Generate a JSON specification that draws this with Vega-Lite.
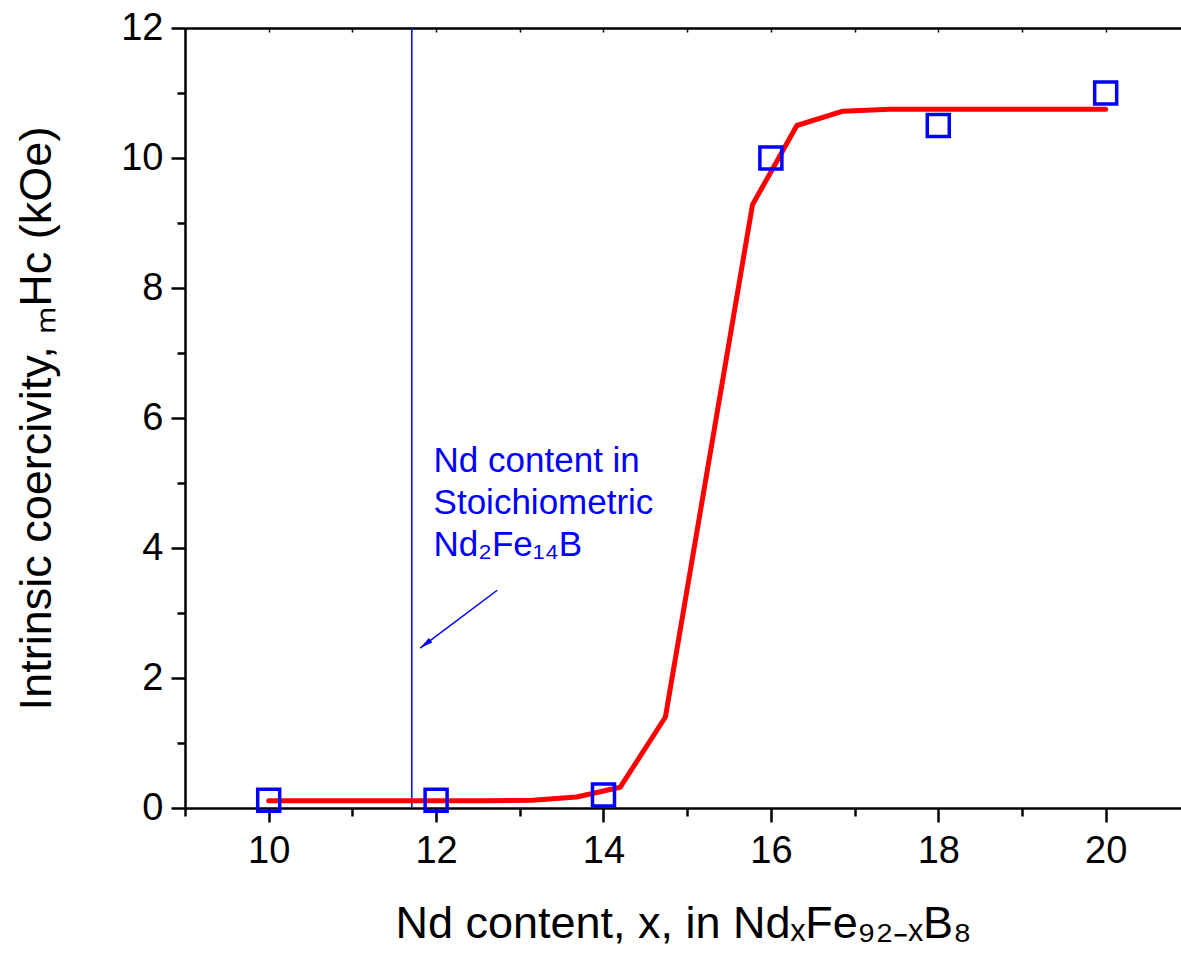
{
  "$schema": "https://vega.github.io/schema/vega-lite/v6.json",
  "width": 996,
  "height": 780,
  "autosize": {"type": "none"},
  "padding": {"left": 185, "top": 28, "right": 0, "bottom": 152},
  "background": "white",
  "config": {
    "view": {"stroke": null},
    "font": "Liberation Sans",
    "axis": {
      "grid": false,
      "domainColor": "black",
      "domainWidth": 2.5,
      "tickColor": "black",
      "tickWidth": 2.5,
      "labelFont": "Liberation Sans",
      "labelColor": "black",
      "labelFontSize": 38,
      "titleFont": "Liberation Sans",
      "titleColor": "black",
      "titleFontSize": 45,
      "titleFontWeight": "normal",
      "labelFlush": false,
      "labelOverlap": false
    }
  },
  "datasets": {
    "pts": [
      {"x": 10, "y": 0.12},
      {"x": 12, "y": 0.12},
      {"x": 14, "y": 0.2},
      {"x": 16, "y": 10.0},
      {"x": 18, "y": 10.5},
      {"x": 20, "y": 11.0}
    ],
    "fit": [
      {"x": 10, "y": 0.11},
      {"x": 10.5, "y": 0.11},
      {"x": 11, "y": 0.11},
      {"x": 11.5, "y": 0.11},
      {"x": 12, "y": 0.11},
      {"x": 12.6, "y": 0.11},
      {"x": 13.15, "y": 0.12},
      {"x": 13.68, "y": 0.17},
      {"x": 14.2, "y": 0.32},
      {"x": 14.74, "y": 1.4},
      {"x": 15.78, "y": 9.28},
      {"x": 16.31, "y": 10.5},
      {"x": 16.86, "y": 10.72},
      {"x": 17.42, "y": 10.75},
      {"x": 18, "y": 10.75},
      {"x": 20, "y": 10.75}
    ],
    "stoich": [{"x": 11.71}],
    "arrow": [{"x": 12.73, "y": 3.35, "x2": 11.81, "y2": 2.46}],
    "note": [{"x": 11.97, "y": 5.17, "label": "Nd content in\nStoichiometric\nNd₂Fe₁₄B"}]
  },
  "layer": [
    {
      "data": {"name": "stoich"},
      "mark": {"type": "rule", "color": "#0000ff", "strokeWidth": 1.5},
      "encoding": {
        "x": {"field": "x", "type": "quantitative",
              "scale": {"domain": [9, 20.9], "nice": false, "zero": false},
              "axis": {"orient": "top", "values": [9,10,11,12,13,14,15,16,17,18,19,20], "tickSize": -4, "tickWidth": 1.5, "labels": false, "title": null, "domain": true}},
        "y": {"datum": 0, "type": "quantitative", "scale": {"domain": [0, 12], "nice": false}, "axis": null},
        "y2": {"datum": 12}
      }
    },
    {
      "data": {"name": "fit"},
      "mark": {"type": "line", "color": "#ff0000", "strokeWidth": 5, "strokeJoin": "round", "strokeCap": "round"},
      "encoding": {
        "x": {"field": "x", "type": "quantitative",
              "scale": {"domain": [9, 20.9], "nice": false, "zero": false},
              "axis": {"orient": "bottom", "values": [9,11,13,15,17,19], "tickSize": 8, "labels": false, "title": null, "domain": false}},
        "y": {"field": "y", "type": "quantitative",
              "scale": {"domain": [0, 12], "nice": false},
              "axis": {"orient": "left", "values": [1,3,5,7,9,11], "tickSize": 8, "labels": false, "title": null, "domain": false}}
      }
    },
    {
      "data": {"name": "pts"},
      "mark": {"type": "point", "shape": "square", "filled": false, "stroke": "#0000ff", "strokeWidth": 3.5, "size": 484, "opacity": 1},
      "encoding": {
        "x": {"field": "x", "type": "quantitative",
              "scale": {"domain": [9, 20.9], "nice": false, "zero": false},
              "axis": {"orient": "bottom", "values": [10,12,14,16,18,20], "tickSize": 14, "labelPadding": 10, "format": "d",
                       "title": "Nd content, x, in NdₓFe₉₂₋ₓB₈", "titlePadding": 31}},
        "y": {"field": "y", "type": "quantitative",
              "scale": {"domain": [0, 12], "nice": false},
              "axis": {"orient": "left", "values": [0,2,4,6,8,10,12], "tickSize": 14, "labelPadding": 8, "format": "d",
                       "title": "Intrinsic coercivity, ₘHc (kOe)", "titlePadding": 61}}
      }
    },
    {
      "data": {"name": "arrow"},
      "mark": {"type": "rule", "color": "#0000ff", "strokeWidth": 1.5},
      "encoding": {
        "x": {"field": "x", "type": "quantitative", "axis": null},
        "y": {"field": "y", "type": "quantitative", "axis": null},
        "x2": {"field": "x2"},
        "y2": {"field": "y2"}
      }
    },
    {
      "data": {"name": "arrow"},
      "mark": {"type": "point", "shape": "M0,0L-0.22,1L0.22,1Z", "filled": true, "color": "#0000ff", "size": 676, "angle": 233, "opacity": 1},
      "encoding": {
        "x": {"field": "x2", "type": "quantitative", "axis": null},
        "y": {"field": "y2", "type": "quantitative", "axis": null}
      }
    },
    {
      "data": {"name": "note"},
      "mark": {"type": "text", "color": "#0000ff", "fontSize": 35, "font": "Liberation Sans", "align": "left", "baseline": "alphabetic", "lineBreak": "\n", "lineHeight": 42},
      "encoding": {
        "x": {"field": "x", "type": "quantitative", "axis": null},
        "y": {"field": "y", "type": "quantitative", "axis": null},
        "text": {"field": "label"}
      }
    }
  ],
  "resolve": {"axis": {"x": "independent", "y": "independent"}}
}
